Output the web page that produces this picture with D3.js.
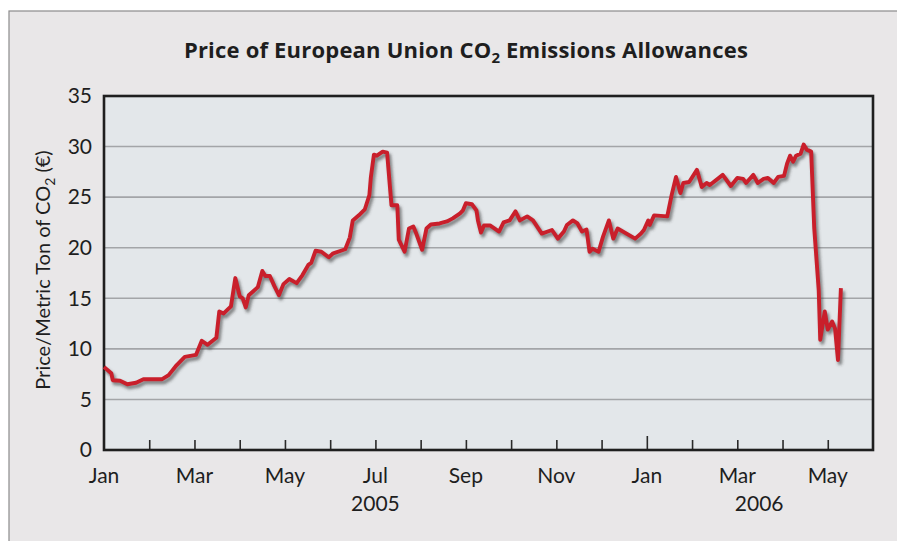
<!DOCTYPE html>
<html>
<head>
<meta charset="utf-8">
<script src="https://cdn.jsdelivr.net/npm/d3@7"></script>
<style>
  html, body { margin: 0; padding: 0; background: #ffffff; }
  svg { display: block; }
  text { font-family: Lato, "Open Sans", sans-serif; fill: #1e1e1e; }
  text.title { font-family: "Open Sans", sans-serif; font-weight: 700; letter-spacing: 0.2px; }
</style>
</head>
<body>
<svg id="chart" width="897" height="541"></svg>
<script>
// EU CO2 allowance price, euro per metric ton
const dates = [
  "2005-01-01","2005-01-06","2005-01-07","2005-01-12","2005-01-17","2005-01-23","2005-01-28",
  "2005-02-09","2005-02-13","2005-02-18","2005-02-23",
  "2005-03-02","2005-03-06","2005-03-10","2005-03-16","2005-03-18","2005-03-21","2005-03-26","2005-03-29",
  "2005-04-01","2005-04-03","2005-04-05","2005-04-07","2005-04-13","2005-04-16","2005-04-18","2005-04-21","2005-04-24","2005-04-27","2005-04-30",
  "2005-05-04","2005-05-09","2005-05-13","2005-05-17","2005-05-19","2005-05-22","2005-05-26","2005-05-31",
  "2005-06-03","2005-06-11","2005-06-14","2005-06-16","2005-06-20","2005-06-24","2005-06-27","2005-06-28","2005-06-30",
  "2005-07-02","2005-07-04","2005-07-06","2005-07-09","2005-07-12","2005-07-16","2005-07-17","2005-07-21","2005-07-24","2005-07-27","2005-07-29",
  "2005-08-02","2005-08-05","2005-08-08","2005-08-14","2005-08-19","2005-08-23","2005-08-28","2005-08-30",
  "2005-09-01","2005-09-05","2005-09-08","2005-09-09","2005-09-11","2005-09-13","2005-09-17","2005-09-23","2005-09-26","2005-09-30",
  "2005-10-04","2005-10-07","2005-10-12","2005-10-16","2005-10-22","2005-10-29",
  "2005-11-02","2005-11-06","2005-11-08","2005-11-12","2005-11-15","2005-11-18","2005-11-21","2005-11-23","2005-11-25","2005-11-29",
  "2005-12-02","2005-12-06","2005-12-09","2005-12-12","2005-12-24","2005-12-28","2005-12-30",
  "2006-01-02","2006-01-03","2006-01-06","2006-01-15","2006-01-18","2006-01-21","2006-01-24","2006-01-26","2006-01-30",
  "2006-02-04","2006-02-07","2006-02-10","2006-02-12","2006-02-20","2006-02-25",
  "2006-03-01","2006-03-05","2006-03-07","2006-03-12","2006-03-15","2006-03-19","2006-03-22","2006-03-26","2006-03-29",
  "2006-04-02","2006-04-04","2006-04-06","2006-04-08","2006-04-10","2006-04-13","2006-04-15","2006-04-17","2006-04-20","2006-04-22","2006-04-25","2006-04-26","2006-04-29",
  "2006-05-01","2006-05-04","2006-05-06","2006-05-08","2006-05-10"
];
const prices = [
  8.2, 7.6, 6.9, 6.85, 6.5, 6.65, 7.0,
  7.0, 7.4, 8.4, 9.2,
  9.4, 10.8, 10.4, 11.1, 13.7, 13.5, 14.2, 17.0,
  15.2, 15.0, 14.1, 15.3, 16.1, 17.7, 17.2, 17.2, 16.2, 15.3, 16.4,
  16.9, 16.5, 17.3, 18.3, 18.5, 19.7, 19.6, 19.05,
  19.45, 19.85, 21.0, 22.7, 23.2, 23.8, 25.2, 27.0, 29.2,
  29.1, 29.3, 29.5, 29.4, 24.2, 24.2, 20.8, 19.6, 21.9, 22.1, 21.4,
  19.8, 21.9, 22.3, 22.4, 22.6, 22.9, 23.4, 23.7,
  24.4, 24.3, 23.7, 22.7, 21.5, 22.2, 22.2, 21.6, 22.5, 22.7,
  23.6, 22.7, 23.1, 22.7, 21.4, 21.75,
  20.9, 21.6, 22.25, 22.7, 22.4, 21.6, 21.8, 19.6, 19.9, 19.6,
  21.1, 22.7, 20.9, 21.9, 20.9, 21.4, 21.75,
  22.7, 22.25, 23.2, 23.1, 25.2, 27.0, 25.4, 26.4, 26.5,
  27.7, 26.0, 26.4, 26.2, 27.2, 26.1,
  26.9, 26.8, 26.4, 27.2, 26.4, 26.8, 26.9, 26.4, 27.0,
  27.1, 28.3, 29.1, 28.5, 29.1, 29.3, 30.2, 29.7, 29.5, 22.0, 15.8, 10.9, 13.7,
  11.9, 12.7, 12.0, 8.9, 16.0
];

const yTicks = [0, 5, 10, 15, 20, 25, 30, 35];
const monthLabels = ["Jan", "Mar", "May", "Jul", "Sep", "Nov", "Jan", "Mar", "May"];
const labelMonths = ["2005-01-01","2005-03-01","2005-05-01","2005-07-01","2005-09-01","2005-11-01","2006-01-01","2006-03-01","2006-05-01"];
const yearLabels = ["2005", "2006"];
const yearLabelDates = ["2005-07-01", "2006-03-16"];
const title = "Price of European Union CO";
const yTitle = "Price/Metric Ton of CO";

const parse = d3.timeParse("%Y-%m-%d");
// Each calendar month takes the same width on the axis
function monthPos(s) {
  const d = parse(s);
  const start = d3.timeMonth.floor(d);
  const next = d3.timeMonth.offset(start, 1);
  const frac = (d - start) / (next - start);
  return (d.getFullYear() - 2005) * 12 + d.getMonth() + frac;
}

const series = dates.map((d, i) => ({ m: monthPos(d), v: prices[i] }));

const svg = d3.select("#chart");
const W = 897, H = 541;
const plot = { left: 104, top: 96, right: 873, bottom: 450 };

const x = d3.scaleLinear().domain([0, 17]).range([plot.left, plot.right]);
const y = d3.scaleLinear().domain([0, 35]).range([plot.bottom, plot.top]);

// Outer panel
svg.append("rect").attr("x", 9).attr("y", 11).attr("width", W).attr("height", H)
  .attr("fill", "#e9e7e8").attr("stroke", "#8c8c8c").attr("stroke-width", 1.2);

// Plot background
svg.append("rect").attr("x", plot.left).attr("y", plot.top)
  .attr("width", plot.right - plot.left).attr("height", plot.bottom - plot.top)
  .attr("fill", "#e3e7ea");

// Horizontal grid
svg.append("g").selectAll("line").data(yTicks.filter(t => t > 0 && t < 35)).join("line")
  .attr("x1", plot.left).attr("x2", plot.right)
  .attr("y1", d => y(d)).attr("y2", d => y(d))
  .attr("stroke", "#a3a5a8").attr("stroke-width", 1.6);

// Month ticks pointing into the plot
const tickMonths = d3.range(1, 17);
const xAxis = d3.axisBottom(x).tickValues(tickMonths).tickSizeInner(-10).tickSizeOuter(0).tickFormat("");
const gx = svg.append("g").attr("transform", `translate(0,${plot.bottom})`).call(xAxis);
gx.select(".domain").remove();
gx.selectAll(".tick line").attr("stroke", "#2a2a2a").attr("stroke-width", 1.6)
  .attr("y2", d => d === 12 ? -14 : -10);

// Month labels
svg.append("g").selectAll("text").data(monthLabels).join("text")
  .attr("x", (d, i) => x(monthPos(labelMonths[i])))
  .attr("y", 483)
  .attr("text-anchor", "middle")
  .attr("font-size", 21)
  .text(d => d);

svg.append("g").selectAll("text").data(yearLabels).join("text")
  .attr("x", (d, i) => x(monthPos(yearLabelDates[i])))
  .attr("y", 511)
  .attr("text-anchor", "middle")
  .attr("font-size", 21)
  .text(d => d);

// Y tick labels
const yAxis = d3.axisLeft(y).tickValues(yTicks).tickSize(0).tickPadding(12).tickFormat(d3.format("d"));
const gy = svg.append("g").attr("transform", `translate(${plot.left},0)`).call(yAxis);
gy.select(".domain").remove();
gy.selectAll(".tick text").attr("font-size", 21).attr("fill", "#1e1e1e");

// Plot frame
svg.append("rect").attr("x", plot.left).attr("y", plot.top)
  .attr("width", plot.right - plot.left).attr("height", plot.bottom - plot.top)
  .attr("fill", "none").attr("stroke", "#1f1f1f").attr("stroke-width", 2.6);

// Price line with soft drop shadow
const defs = svg.append("defs");
defs.append("filter").attr("id", "soft").attr("x", "-5%").attr("y", "-5%").attr("width", "110%").attr("height", "110%")
  .append("feGaussianBlur").attr("stdDeviation", 1.6);

const line = d3.line().x(d => x(d.m)).y(d => y(d.v));

svg.append("path").datum(series)
  .attr("d", line)
  .attr("transform", "translate(2,3)")
  .attr("fill", "none").attr("stroke", "#3a3a3a").attr("stroke-opacity", 0.6)
  .attr("stroke-width", 4.2).attr("stroke-linejoin", "round")
  .attr("filter", "url(#soft)");

svg.append("path").datum(series)
  .attr("d", line)
  .attr("fill", "none").attr("stroke", "#c91f2b")
  .attr("stroke-width", 3.9).attr("stroke-linejoin", "round").attr("stroke-linecap", "butt");

// Title with subscript
const t = svg.append("text").attr("class", "title")
  .attr("x", 466).attr("y", 58).attr("text-anchor", "middle")
  .attr("font-size", 22);
t.append("tspan").text(title);
t.append("tspan").attr("font-size", 15).attr("dy", 5).text("2");
t.append("tspan").attr("dy", -5).text(" Emissions Allowances");

// Y axis title
const yt = svg.append("text")
  .attr("transform", "translate(50,270) rotate(-90)")
  .attr("text-anchor", "middle").attr("font-size", 20);
yt.append("tspan").text(yTitle);
yt.append("tspan").attr("font-size", 14).attr("dy", 5).text("2");
yt.append("tspan").attr("dy", -5).text(" (€)");
</script>
</body>
</html>
